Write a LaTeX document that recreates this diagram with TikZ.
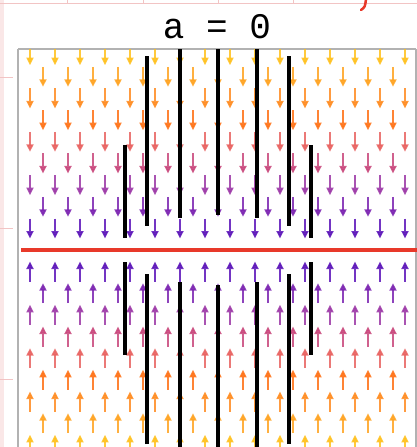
\documentclass[tikz,border=0pt]{standalone}
\usepackage{fontspec}
\newfontfamily\titlefont{Liberation Mono}
\usepackage{xcolor}
\usepackage{tikz}
\usetikzlibrary{arrows.meta}
\definecolor{row1}{HTML}{FFBF1A}
\definecolor{row2}{HTML}{FFA21F}
\definecolor{row3}{HTML}{FF8A1E}
\definecolor{row4}{HTML}{FF6F12}
\definecolor{row5}{HTML}{E8615F}
\definecolor{row6}{HTML}{C8457A}
\definecolor{row7}{HTML}{9A35A5}
\definecolor{row8}{HTML}{7A22B0}
\definecolor{row9}{HTML}{5A12B8}
\definecolor{notepink}{HTML}{F2C4C4}
\definecolor{redline}{HTML}{E8392A}
\tikzstyle{vec}   = [-{Triangle[length=7.5pt, width=7pt]}, line width=1.7pt, opacity=0.85]
\tikzstyle{bar}   = [line width=4pt, black]
\tikzstyle{frame} = [draw=gray!60, line width=1.2pt]

\begin{document}
\begin{tikzpicture}[x=1pt, y=-1pt]
  \useasboundingbox (0,0) rectangle (417,447);
  \clip (0,0) rectangle (417,447);

  % notebook paper
  \fill[notepink!40] (0,0) rectangle (4,447);
  \draw[notepink, line width=1pt] (0,3) -- (417,3);
  \foreach \px in {67,143,218,293}
    \draw[notepink, line width=1pt] (\px,0) -- (\px,3);
  \foreach \py in {77,228,379}
    \draw[notepink, line width=1pt] (0,\py) -- (13,\py);
  \draw[redline, line width=2.5pt, line cap=round] (366,-1) .. controls (365,7) .. (361,10);

  \node[font=\titlefont\fontsize{36}{40}\selectfont] (title) at (217,27) {a = 0};

  \draw[frame] (18,49) -- (416,49);
  \draw[frame] (18,49) -- (18,447);
  \draw[frame] (416,49) -- (416,447);

  % field
  \begin{scope}
    \clip (19,49.6) rectangle (415.4,447);
    \foreach \k in {1,...,9}{
      \pgfmathsetmacro{\yt}{218.5-(9-\k)*21.67}
      \pgfmathsetmacro{\yb}{\yt+20}
      \pgfmathtruncatemacro{\odd}{mod(\k,2)}
      \ifnum\odd=1
        \foreach \i in {0,...,15}{
          \draw[vec, row\k] ({30+25*\i},\yt) -- ({30+25*\i},\yb);
          \draw[vec, row\k] ({30+25*\i},{500-\yt}) -- ({30+25*\i},{500-\yb});
        }
      \else
        \foreach \i in {0,...,14}{
          \draw[vec, row\k] ({43+25*\i},\yt) -- ({43+25*\i},\yb);
          \draw[vec, row\k] ({43+25*\i},{500-\yt}) -- ({43+25*\i},{500-\yb});
        }
      \fi
    }
    \foreach \bx/\bt/\bb in {125/145/238, 147/56/226, 180/49/218, 218/49/215,
                             257/49/218, 289/56/226, 311/145/238}{
      \draw[bar] (\bx,\bt) -- (\bx,\bb);
      \draw[bar] (\bx,{500-\bt}) -- (\bx,{500-\bb});
    }
  \end{scope}

  \draw[redline, line width=3.6pt] (21,250) -- (417,250);
\end{tikzpicture}
\end{document}
